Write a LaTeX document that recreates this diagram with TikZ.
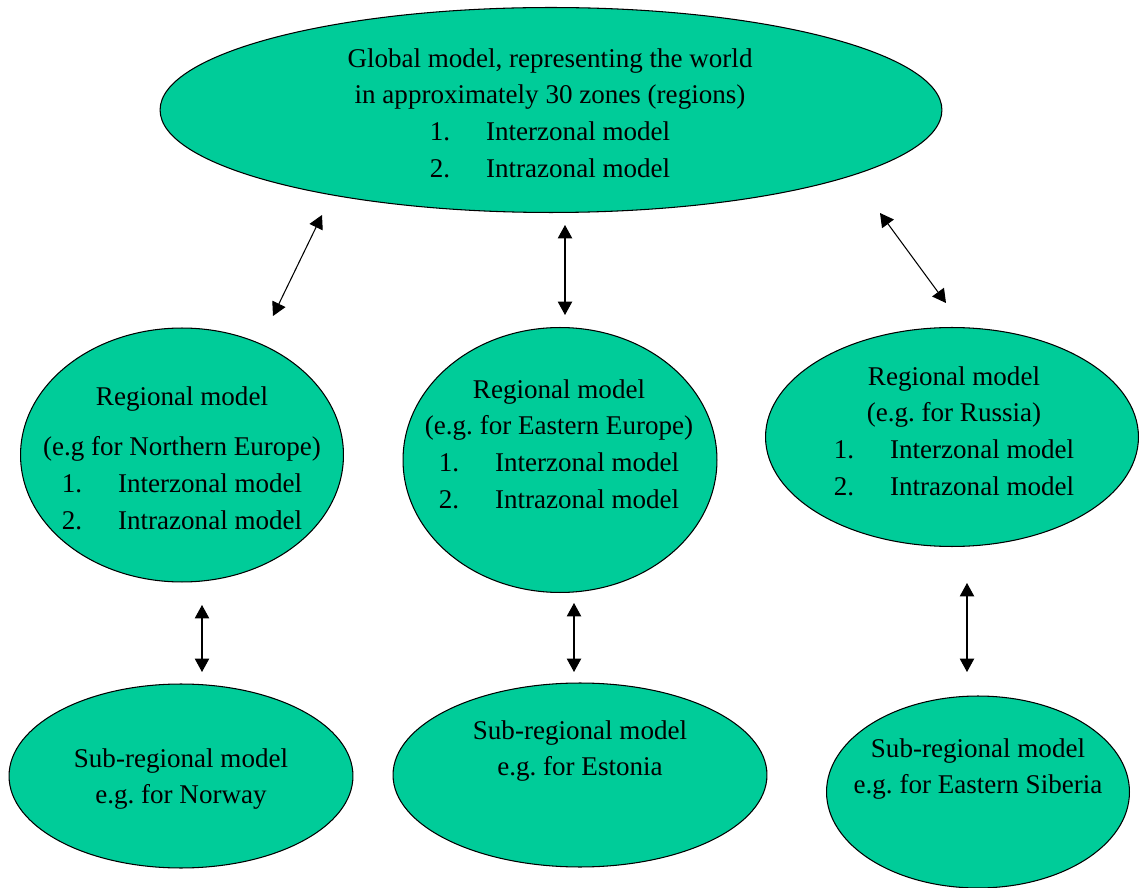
\documentclass[tikz,border=0pt]{standalone}
\usepackage{fontspec}
\setmainfont{Liberation Serif}
\usepackage{tikz}
\usetikzlibrary{
  arrows.meta,
  shapes.geometric,
}
\frenchspacing
\definecolor{zoneFill}{HTML}{00CC99}
\tikzset{
  zoneBox/.style 2 args={
    ellipse, draw=black, line width=0.6pt, fill=zoneFill,
    minimum width=#1, minimum height=#2, inner sep=0pt,
  },
  zoneText/.style={
    align=center, inner sep=0pt,
    font=\fontsize{15.4}{20.8}\selectfont,
  },
  arrowBoth/.style={
    {Triangle[length=2.7mm,width=2.9mm]}-{Triangle[length=2.7mm,width=2.9mm]},
    line width=0.6pt, draw=black,
  },
}
\newcommand{\listItem}[2]{#1\hspace{0.72cm}#2}

\begin{document}
\begin{tikzpicture}[x=0.02cm, y=-0.02cm]
\useasboundingbox (0,0) rectangle (1140,888);

% ellipses
\node[zoneBox={15.64cm}{4.1cm}] (glob) at (551,110) {};
\node[zoneBox={6.46cm}{5.08cm}] (regN) at (182,455) {};
\node[zoneBox={6.28cm}{5.3cm}]  (regE) at (560,460) {};
\node[zoneBox={7.46cm}{4.38cm}] (regR) at (952,437) {};
\node[zoneBox={6.88cm}{3.68cm}] (subN) at (181,776) {};
\node[zoneBox={7.48cm}{3.68cm}] (subE) at (580,775) {};
\node[zoneBox={6.06cm}{3.84cm}] (subR) at (978,792) {};

% texts
\node[zoneText] (globText) at (550,113)
  {Global model, representing the world\\
   in approximately 30 zones (regions)\\
   \listItem{1.}{Interzonal model}\\
   \listItem{2.}{Intrazonal model}};
\node[zoneText] (regNText) at (182,458)
  {Regional model\\[8pt]
   (e.g for Northern Europe)\\
   \listItem{1.}{Interzonal model}\\
   \listItem{2.}{Intrazonal model}};
\node[zoneText] (regEText) at (559,444)
  {Regional model\\
   (e.g. for Eastern Europe)\\
   \listItem{1.}{Interzonal model}\\
   \listItem{2.}{Intrazonal model}};
\node[zoneText] (regRText) at (954,431)
  {Regional model\\
   (e.g. for Russia)\\
   \listItem{1.}{Interzonal model}\\
   \listItem{2.}{Intrazonal model}};
\node[zoneText] (subNText) at (181,779)
  {Sub-regional model\\ e.g. for Norway};
\node[zoneText] (subEText) at (580,751)
  {Sub-regional model\\ e.g. for Estonia};
\node[zoneText] (subRText) at (978,769)
  {Sub-regional model\\ e.g. for Eastern Siberia};

% arrow ends
\coordinate (globN) at (322,215);
\coordinate (regNtop) at (273,316);
\coordinate (globE) at (565,225);
\coordinate (regEtop) at (565,315);
\coordinate (globR) at (880,213);
\coordinate (regRtop) at (946,303);
\coordinate (regNbot) at (202,605);
\coordinate (subNtop) at (202,672);
\coordinate (regEbot) at (574,603);
\coordinate (subEtop) at (574,672);
\coordinate (regRbot) at (967,583);
\coordinate (subRtop) at (967,672);

\draw[arrowBoth] (globN) -- (regNtop);
\draw[arrowBoth] (globE) -- (regEtop);
\draw[arrowBoth] (globR) -- (regRtop);
\draw[arrowBoth] (regNbot) -- (subNtop);
\draw[arrowBoth] (regEbot) -- (subEtop);
\draw[arrowBoth] (regRbot) -- (subRtop);

\end{tikzpicture}
\end{document}
